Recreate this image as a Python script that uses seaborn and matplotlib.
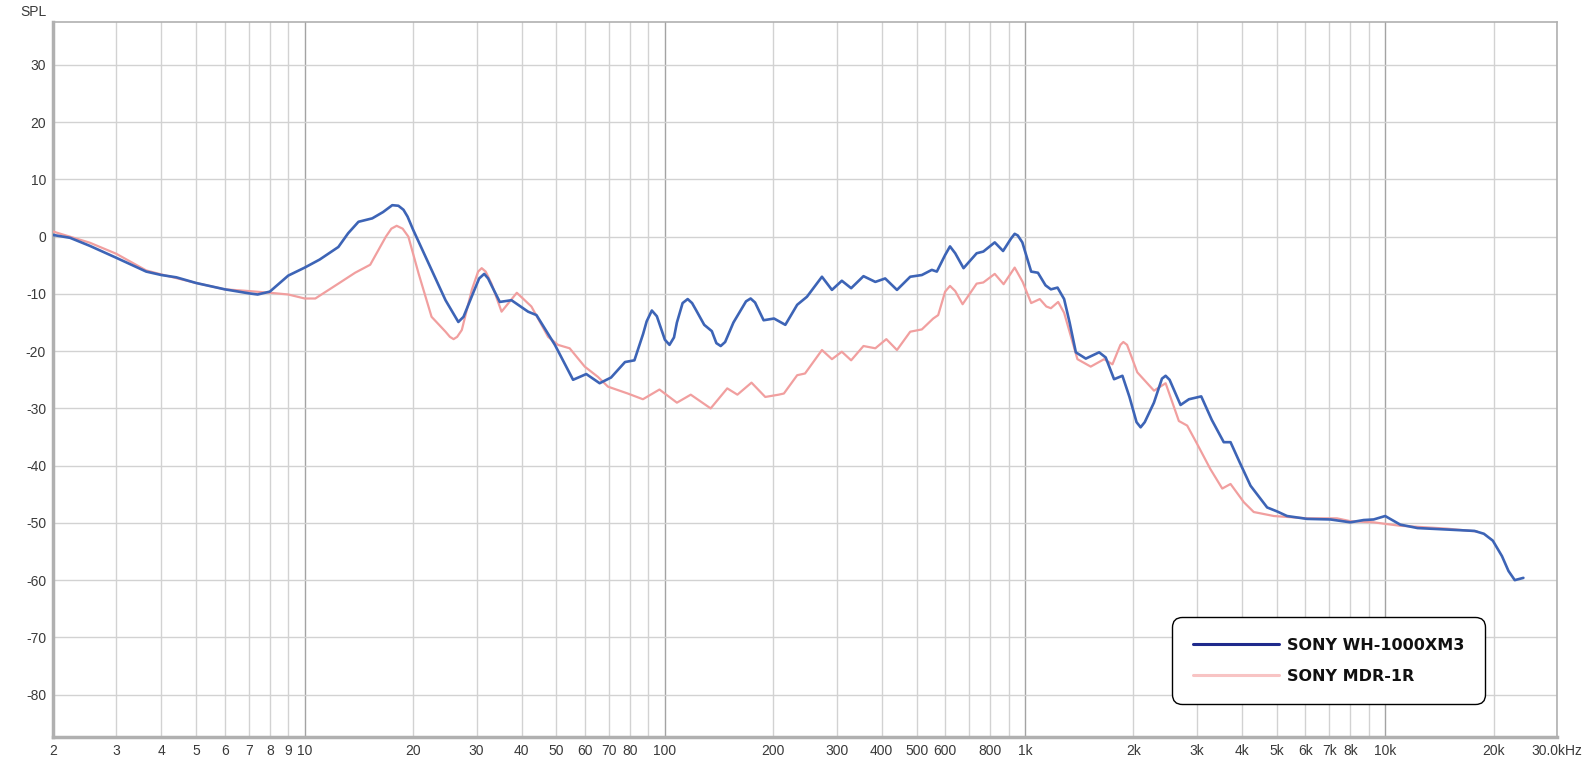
import numpy as np
import pandas as pd
import matplotlib
matplotlib.use('Agg')
import matplotlib.pyplot as plt
from matplotlib.lines import Line2D
from matplotlib.ticker import FixedLocator, FixedFormatter
import seaborn as sns

sns.set_style('whitegrid')
plt.rcParams['font.family'] = ['Liberation Sans', 'DejaVu Sans']

# frequency response, SONY WH-1000XM3
xm3_freq = [2, 2.23, 2.53, 3.0, 3.63, 4.0, 4.4, 5, 6, 7, 7.4, 8, 9, 10, 11, 12.4, 13.2, 14.1, 15.4,
            16.5, 17.5, 18.2, 18.8, 19.3, 20, 22.5, 24.6, 26.7, 27.6, 29.5, 30.5, 31.5, 32.3, 33,
            34.8, 37.5, 41.7, 44, 49.5, 55.6, 60.5, 65.9, 70.9, 77.5, 82.3, 87, 89, 92, 95, 100, 103,
            106, 108, 112, 115.7, 119, 122, 128.6, 135, 139, 142.9, 147, 155, 168, 173, 178, 188, 201,
            216, 233, 248, 273, 291, 310, 329, 356, 384, 409, 441, 480, 517, 551, 569, 600, 619, 640,
            675, 734, 766, 824, 869, 915, 936, 955, 983, 1040, 1086, 1140, 1180, 1231, 1284, 1330,
            1384, 1475, 1606, 1675, 1767, 1864, 1950, 2040, 2094, 2150, 2280, 2400, 2457, 2520, 2703,
            2852, 3085, 3300, 3563, 3721, 3950, 4228, 4702, 5012, 5341, 6069, 7046, 8004, 8717, 9290,
            10000, 11010, 12300, 15200, 17700, 18800, 19900, 21100, 22000, 22900, 24200]
xm3_spl = [0.3, -0.2, -1.6, -3.7, -6.1, -6.7, -7.1, -8.1, -9.2, -9.9, -10.1, -9.6, -6.8, -5.4, -4.0,
           -1.8, 0.6, 2.6, 3.2, 4.3, 5.5, 5.4, 4.7, 3.5, 1.2, -5.8, -11.1, -14.9, -14.0, -9.5, -7.3,
           -6.5, -7.3, -8.5, -11.4, -11.1, -13.1, -13.7, -18.9, -25.0, -24.0, -25.6, -24.6, -21.9,
           -21.6, -17.0, -14.8, -12.9, -13.9, -18.0, -18.9, -17.6, -15.0, -11.6, -10.9, -11.6, -12.8,
           -15.4, -16.5, -18.6, -19.1, -18.4, -15.0, -11.3, -10.8, -11.5, -14.6, -14.3, -15.4, -11.9,
           -10.5, -7.0, -9.3, -7.7, -9.0, -6.9, -7.9, -7.3, -9.3, -7.0, -6.7, -5.8, -6.1, -3.2, -1.7,
           -2.9, -5.5, -2.9, -2.6, -1.0, -2.5, -0.3, 0.5, 0.2, -1.0, -6.1, -6.3, -8.5, -9.2, -8.9,
           -10.9, -15.0, -20.2, -21.3, -20.2, -21.1, -24.9, -24.3, -28.0, -32.4, -33.3, -32.4, -29.0,
           -24.8, -24.3, -25.0, -29.4, -28.4, -27.9, -32.0, -35.9, -35.9, -39.5, -43.5, -47.3, -48.0,
           -48.8, -49.3, -49.4, -49.9, -49.5, -49.4, -48.8, -50.3, -50.9, -51.2, -51.4, -51.9, -53.1,
           -55.8, -58.4, -60.0, -59.6]

# frequency response, SONY MDR-1R
mdr_freq = [2, 2.53, 3, 3.63, 4, 5, 6, 7, 8, 9, 10, 10.7, 12.4, 13.8, 15.2, 16.8, 17.4, 18.0, 18.7,
            19.4, 20.7, 22.5, 24.6, 25.3, 25.9, 26.5, 27.3, 29.1, 30.3, 31.0, 31.8, 33.0, 35.2, 38.8,
            42.6, 47.4, 50.5, 54.4, 59.9, 65.2, 69.5, 78.9, 86.9, 96.6, 108, 118, 134, 149, 159, 174,
            190, 207, 214, 233, 245, 273, 291, 310, 329, 356, 384, 412, 441, 480, 517, 556, 574, 600,
            619, 640, 671, 734, 766, 824, 872, 936, 985, 1040, 1099, 1146, 1180, 1236, 1284, 1398,
            1522, 1658, 1749, 1840, 1875, 1920, 2050, 2281, 2457, 2674, 2820, 3005, 3271, 3529, 3721,
            4053, 4316, 4911, 6069, 7345, 8004, 9290, 10100, 11010, 14840, 18000]
mdr_spl = [0.9, -1.05, -3.0, -5.9, -6.6, -8.1, -9.2, -9.5, -9.8, -10.1, -10.8, -10.8, -8.2, -6.3,
           -4.9, 0.0, 1.4, 1.9, 1.4, 0.0, -6.4, -14.0, -16.6, -17.5, -17.9, -17.5, -16.3, -9.3, -6.1,
           -5.5, -6.1, -8.2, -13.1, -9.8, -12.2, -17.5, -18.9, -19.5, -22.7, -24.5, -26.2, -27.4,
           -28.4, -26.7, -29.0, -27.6, -30.0, -26.5, -27.6, -25.5, -28.0, -27.6, -27.4, -24.2, -23.9,
           -19.8, -21.4, -20.1, -21.6, -19.1, -19.5, -17.9, -19.8, -16.6, -16.2, -14.3, -13.7, -9.6,
           -8.6, -9.5, -11.8, -8.2, -8.0, -6.5, -8.3, -5.4, -7.9, -11.6, -10.9, -12.2, -12.5, -11.4,
           -13.3, -21.4, -22.7, -21.4, -22.3, -18.9, -18.4, -18.9, -23.7, -26.9, -25.6, -32.2, -33.0,
           -36.2, -40.6, -44.0, -43.2, -46.4, -48.1, -48.8, -49.2, -49.2, -49.7, -49.9, -50.2, -50.5,
           -51.0, -51.5]

y_ticks = [30, 20, 10, 0, -10, -20, -30, -40, -50, -60, -70, -80]
x_major = [10, 100, 1000, 10000]
x_major_labels = ['10', '100', '1k', '10k']
x_minor = [2, 3, 4, 5, 6, 7, 8, 9,
           20, 30, 40, 50, 60, 70, 80, 90,
           200, 300, 400, 500, 600, 700, 800, 900,
           2000, 3000, 4000, 5000, 6000, 7000, 8000, 9000,
           20000, 30000]
x_minor_labels = ['2', '3', '4', '5', '6', '7', '8', '9',
                  '20', '30', '40', '50', '60', '70', '80', '',
                  '200', '300', '400', '500', '600', '', '800', '',
                  '2k', '3k', '4k', '5k', '6k', '7k', '8k', '',
                  '20k', '30.0kHz']

names = ['SONY WH-1000XM3', 'SONY MDR-1R']
line_colors = ['#3d64b6', '#f19f9f']
legend_colors = ['#1f2a8c', '#f8c4c4']

df_xm3 = pd.DataFrame({'freq': xm3_freq, 'spl': xm3_spl})
df_mdr = pd.DataFrame({'freq': mdr_freq, 'spl': mdr_spl})

fig = plt.figure(figsize=(15.85, 7.64), dpi=100)
ax = fig.add_axes([53 / 1585, 27 / 764, 1504 / 1585, 715 / 764])

sns.lineplot(data=df_mdr, x='freq', y='spl', ax=ax, color=line_colors[1], linewidth=1.6,
             sort=False, zorder=3, solid_joinstyle='round', solid_capstyle='round')
sns.lineplot(data=df_xm3, x='freq', y='spl', ax=ax, color=line_colors[0], linewidth=1.9,
             sort=False, zorder=4, solid_joinstyle='round', solid_capstyle='round')

ax.set_xscale('log')
ax.set_xlim(2, 30000)
ax.set_ylim(-87.4, 37.5)

ax.xaxis.set_major_locator(FixedLocator(x_major))
ax.xaxis.set_major_formatter(FixedFormatter(x_major_labels))
ax.xaxis.set_minor_locator(FixedLocator(x_minor))
ax.xaxis.set_minor_formatter(FixedFormatter(x_minor_labels))
ax.set_yticks(y_ticks)
ax.set_yticklabels([str(v) for v in y_ticks])

ax.grid(False)
ax.grid(which='major', axis='x', color='#a3a3a3', linewidth=1.0)
ax.grid(which='minor', axis='x', color='#d2d2d2', linewidth=1.0)
ax.grid(which='major', axis='y', color='#d2d2d2', linewidth=1.0)
ax.set_axisbelow(True)

ax.tick_params(which='both', axis='both', length=0, labelsize=10, labelcolor='#3a3a3a')
ax.tick_params(axis='x', which='both', pad=5)
ax.tick_params(axis='y', pad=5)
ax.set_xlabel('')
ax.set_ylabel('')

for side in ['left', 'bottom', 'right', 'top']:
    ax.spines[side].set_color('#b0b0b0')
    ax.spines[side].set_linewidth(1.2)
ax.spines['left'].set_linewidth(2.5)
ax.spines['bottom'].set_linewidth(2.5)

fig.text(20 / 1585, 1 - 12 / 764, 'SPL', fontsize=10, color='#3a3a3a', va='center', ha='left')

handles = [Line2D([0], [0], color=c, linewidth=2.2) for c in legend_colors]
leg = ax.legend(handles, names, loc='upper left', bbox_to_anchor=(0.744, 0.168),
                frameon=True, fancybox=True, handlelength=5.4, handletextpad=0.5,
                labelspacing=1.0, borderpad=1.3, borderaxespad=0,
                prop={'family': 'DejaVu Sans', 'weight': 'bold', 'size': 11.5})
frame = leg.get_frame()
frame.set_edgecolor('black')
frame.set_linewidth(1.0)
frame.set_facecolor('white')
frame.set_alpha(1)
frame.set_boxstyle('round,pad=0,rounding_size=0.65')
for t in leg.get_texts():
    t.set_color('#111111')

fig.savefig('out.png', dpi=100)
